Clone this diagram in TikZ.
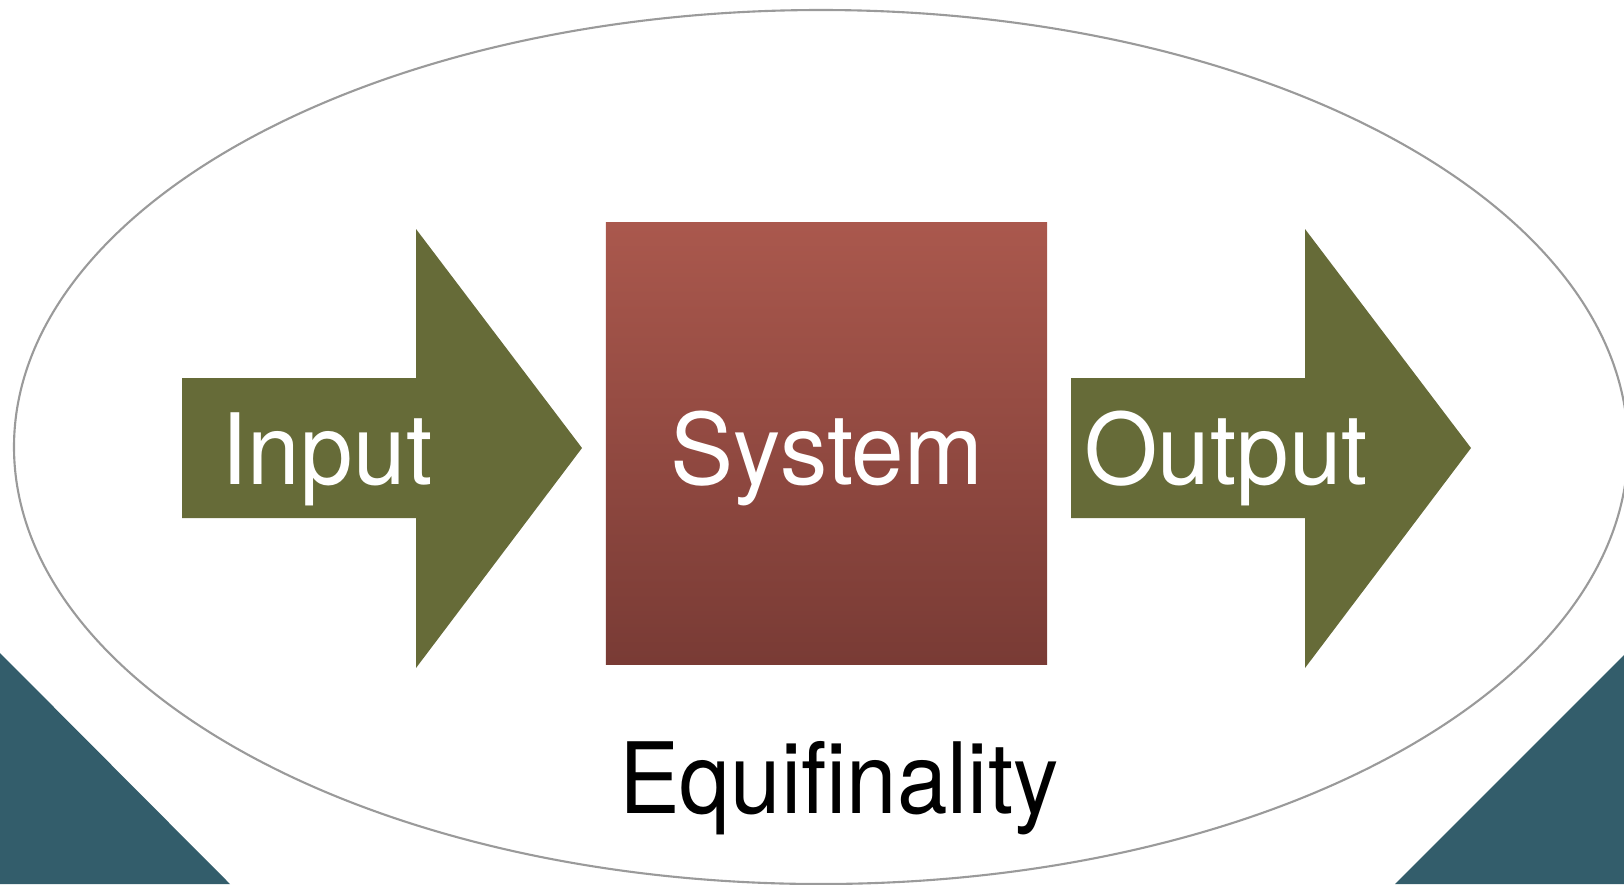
\documentclass[tikz,border=0pt]{standalone}
\usepackage{fontspec}
\setmainfont{TeX Gyre Heros}
\usepackage{tikz}
\usepackage{xcolor}
\usetikzlibrary{positioning}
\definecolor{Sys_Teal}{HTML}{335D6B}
\definecolor{Sys_Olive}{HTML}{666B38}
\definecolor{Sys_RedTop}{HTML}{AA584D}
\definecolor{Sys_RedBot}{HTML}{793B35}
\definecolor{Sys_Gray}{HTML}{9A9A9A}

\begin{document}
\begin{tikzpicture}[x=0.01cm, y=-0.01cm,
    label/.style={text=white, font=\fontsize{28}{30}\selectfont, anchor=base, inner sep=0pt,
        transform shape, xscale=0.96}]
    \useasboundingbox (0,0) rectangle (1624,884);
    \clip (0,0) rectangle (1624,884);

    % Corner Triangles
    \fill[Sys_Teal] (0,653) -- (230,884) -- (0,884) -- cycle;
    \fill[Sys_Teal] (1624,655) -- (1395,884) -- (1624,884) -- cycle;

    % Boundary
    \draw[Sys_Gray, line width=0.6pt] (821,447) ellipse (807 and 437);

    % Input Arrow
    \fill[Sys_Olive] (182,378) -- (416,378) -- (416,229) -- (582,448)
        -- (416,668) -- (416,518) -- (182,518) -- cycle;
    \node[label] (input) at (327,484) {Input};

    % System Box
    \node[inner sep=0pt, top color=Sys_RedTop, bottom color=Sys_RedBot,
        minimum width=4.41cm, minimum height=4.41cm] (box) at (826.5,443.5) {};
    \node[label] (system) at (827,484) {System};

    % Output Arrow
    \fill[Sys_Olive] (1071,378) -- (1305,378) -- (1305,229) -- (1471,448)
        -- (1305,668) -- (1305,518) -- (1071,518) -- cycle;
    \node[label] (output) at (1226,484) {Output};

    % Caption
    \node[label, text=black, xscale=0.96] (caption) at (839,813) {Equifinality};
\end{tikzpicture}
\end{document}
